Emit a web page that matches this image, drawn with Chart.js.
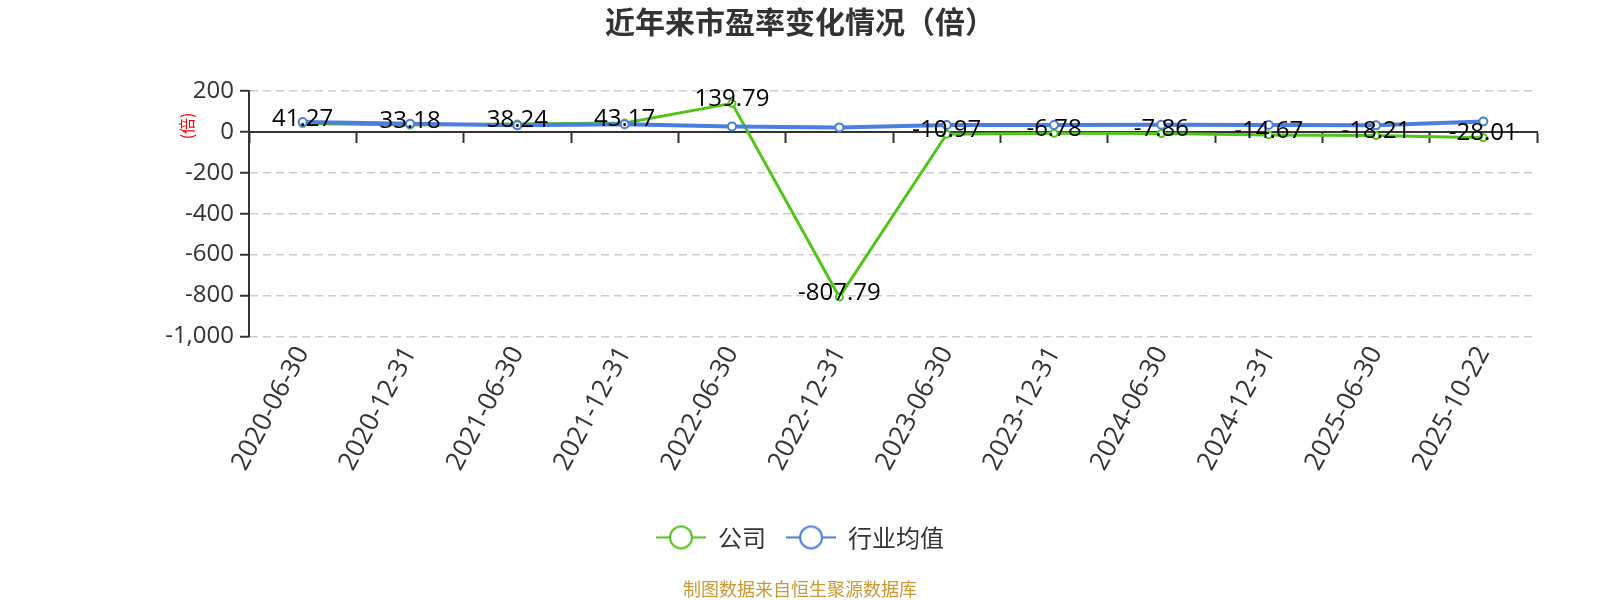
<!DOCTYPE html>
<html>
<head>
<meta charset="utf-8">
<script src="https://cdn.jsdelivr.net/npm/chart.js@4.4.0/dist/chart.umd.min.js"></script>
<style>
html,body{margin:0;padding:0;background:#fff;}
#wrap{width:1600px;height:600px;position:relative;}
</style>
</head>
<body>
<div id="wrap"><canvas id="c"></canvas></div>
<script>
// ---- data ----
const categories = ['2020-06-30','2020-12-31','2021-06-30','2021-12-31','2022-06-30','2022-12-31','2023-06-30','2023-12-31','2024-06-30','2024-12-31','2025-06-30','2025-10-22'];
const companyPE = [41.27, 33.18, 38.24, 43.17, 139.79, -807.79, -10.97, -6.78, -7.86, -14.67, -18.21, -28.01];
const industryPE = [48, 40, 32, 37, 27, 22, 34, 34, 35, 34, 32, 51];
const seriesNames = ['公司', '行业均值'];
const yMin = -1000, yMax = 200, yStep = 200;
const titleText = '近年来市盈率变化情况（倍）';
const sourceText = '制图数据来自恒生聚源数据库';
const yUnitText = '(倍)';

// ---- styles ----
const FONT = "'Open Sans', 'Noto Sans CJK SC', sans-serif";
const CJK = "'Noto Sans CJK SC', sans-serif";
const GREEN = '#52c41a';
const BLUE = '#4a7ee0';

function makeIcon(color) {
  const c = document.createElement('canvas');
  c.width = 50; c.height = 26;
  const g = c.getContext('2d');
  g.strokeStyle = color; g.lineWidth = 2;
  g.beginPath(); g.moveTo(0, 13); g.lineTo(14, 13); g.moveTo(36, 13); g.lineTo(50, 13); g.stroke();
  g.beginPath(); g.arc(25, 13, 11, 0, Math.PI * 2); g.fillStyle = '#fff'; g.fill(); g.stroke();
  return c;
}
const icons = [makeIcon(GREEN), makeIcon(BLUE)];

const valueLabels = {
  id: 'valueLabels',
  afterDatasetsDraw(chart) {
    const ctx = chart.ctx;
    const meta = chart.getDatasetMeta(0);
    ctx.save();
    ctx.font = '24px ' + FONT;
    ctx.fillStyle = '#000';
    ctx.textAlign = 'center';
    ctx.textBaseline = 'middle';
    meta.data.forEach((el, i) => {
      ctx.fillText(companyPE[i].toFixed(2), el.x, el.y - 4);
    });
    ctx.restore();
  }
};

const yUnit = {
  id: 'yUnit',
  afterDraw(chart) {
    const {ctx, chartArea} = chart;
    const y = chart.scales.y;
    ctx.save();
    ctx.translate(chartArea.left - 62, y.getPixelForValue(0) - 6);
    ctx.rotate(-Math.PI / 2);
    ctx.font = '16px ' + CJK;
    ctx.fillStyle = '#ff0000';
    ctx.textAlign = 'center';
    ctx.textBaseline = 'middle';
    ctx.fillText(yUnitText, 0, 0);
    ctx.restore();
  }
};

new Chart(document.getElementById('c'), {
  type: 'line',
  data: {
    labels: categories,
    datasets: [
      {
        label: seriesNames[0], data: companyPE, xAxisID: 'x', yAxisID: 'y', order: 1,
        borderColor: GREEN, backgroundColor: '#fff', borderWidth: 3,
        pointRadius: 3.5, pointBorderWidth: 2, pointBackgroundColor: '#fff', pointBorderColor: GREEN,
        tension: 0, fill: false
      },
      {
        label: seriesNames[1], data: industryPE, xAxisID: 'x', yAxisID: 'y', order: 0,
        borderColor: BLUE, backgroundColor: '#fff', borderWidth: 4,
        pointRadius: 4, pointBorderWidth: 2, pointBackgroundColor: '#fff', pointBorderColor: BLUE,
        tension: 0, fill: false
      }
    ]
  },
  options: {
    responsive: true,
    maintainAspectRatio: false,
    animation: false,
    locale: 'en-US',
    layout: { padding: 0 },
    plugins: {
      tooltip: { enabled: false },
      title: {
        display: true, text: titleText, color: '#333',
        font: { size: 30, weight: 'bold', family: CJK },
        padding: { top: 4, bottom: 51 }
      },
      subtitle: {
        display: true, position: 'bottom', text: sourceText, color: '#cc9933',
        font: { size: 18, family: CJK },
        padding: { top: 19, bottom: 0 }
      },
      legend: {
        display: true, position: 'bottom',
        labels: {
          usePointStyle: true, pointStyleWidth: 50, padding: 20,
          color: '#333', font: { size: 24, family: CJK },
          generateLabels: (chart) => chart.data.datasets.map((ds, i) => ({
            text: ds.label, pointStyle: icons[i], fillStyle: '#fff', strokeStyle: ds.borderColor,
            lineWidth: 0, hidden: false, datasetIndex: i, fontColor: '#333'
          }))
        }
      }
    },
    scales: {
      x: {
        type: 'category', position: 'bottom', offset: true,
        grid: { display: false, drawTicks: false, tickLength: 0 },
        border: { display: false },
        ticks: { autoSkip: false, minRotation: 62, maxRotation: 62, color: '#333', padding: 5, font: { size: 26, family: FONT } },
        afterFit: (s) => { s.height = 169; }
      },
      x0: {
        type: 'category', position: { y: 0 }, offset: true,
        grid: { display: true, drawOnChartArea: false, drawTicks: true, tickLength: 10, tickColor: '#333', tickWidth: 2, offset: true },
        border: { display: true, color: '#333', width: 2 },
        ticks: { display: false }
      },
      y: {
        type: 'linear', position: 'left', min: yMin, max: yMax,
        grid: { color: '#cccccc', lineWidth: 1.5, drawTicks: true, tickLength: 9, tickColor: '#333', tickWidth: 2, tickBorderDash: [] },
        border: { display: true, color: '#333', width: 2, dash: [8, 5] },
        ticks: { stepSize: yStep, color: '#333', padding: 6, font: { size: 24, family: FONT } },
        afterFit: (s) => { s.width = 249; }
      },
      yRightSpace: {
        type: 'linear', position: 'right', display: true,
        grid: { display: false, drawTicks: false },
        border: { display: false },
        ticks: { display: false },
        afterFit: (s) => { s.width = 63; }
      }
    }
  },
  plugins: [valueLabels, yUnit]
});
</script>
</body>
</html>
